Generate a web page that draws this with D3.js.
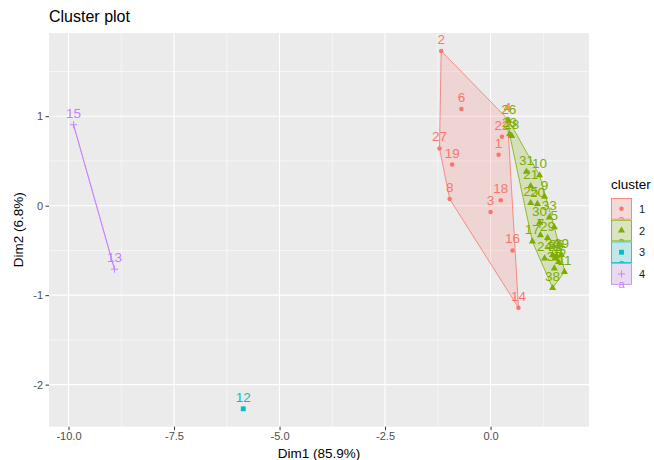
<!DOCTYPE html>
<html>
<head>
<meta charset="utf-8">
<script src="https://cdn.jsdelivr.net/npm/d3@7"></script>
<style>
    body { margin: 0; background: #ffffff; }
    svg { font-family: "Liberation Sans", Arial, sans-serif; }
</style>
</head>
<body>
<div id="chart"></div>
<script>
// cluster plot (fviz_cluster style)

const pointLabels = ["1","2","3","4","5","6","7","8","9","10","11","12","13","14","15","16","17","18","19","20",
                     "21","22","23","24","25","26","27","28","29","30","31","32","33","34","35","36","37","38","39"];
const dim1Values = [0.19, -1.17, 0.00, 0.40, 1.51, -0.69, 1.18, -0.97, 1.28, 1.16, 1.75, -5.86, -8.91, 0.66, -9.88, 0.52, 0.99, 0.24, -0.91, 1.11,
                    0.95, 0.27, 0.45, 1.28, 0.95, 0.43, -1.21, 0.50, 1.35, 1.16, 0.85, 1.54, 1.39, 1.47, 1.61, 1.56, 1.51, 1.47, 1.68];
const dim2Values = [0.57, 1.73, -0.07, 0.97, -0.24, 1.08, -0.33, 0.075, 0.10, 0.34, -0.74, -2.27, -0.71, -1.14, 0.905, -0.50, -0.40, 0.06, 0.46, 0.02,
                    0.22, 0.77, 0.80, -0.59, 0.03, 0.95, 0.64, 0.78, -0.36, -0.19, 0.38, -0.59, -0.13, -0.55, -0.63, -0.56, -0.70, -0.92, -0.55];
const clusterOf = [1, 1, 1, 1, 2, 1, 2, 1, 2, 2, 2, 3, 4, 1, 4, 1, 2, 1, 1, 2,
                   2, 1, 2, 2, 2, 2, 1, 2, 2, 2, 2, 2, 2, 2, 2, 2, 2, 2, 2];

const clusterNames = ["1", "2", "3", "4"];
const clusterColors = ["#F8766D", "#7CAE00", "#00BFC4", "#C77CFF"];

const xBreaks = [-10, -7.5, -5, -2.5, 0];
const xTickLabels = ["-10.0", "-7.5", "-5.0", "-2.5", "0.0"];
const xMinorBreaks = [-8.75, -6.25, -3.75, -1.25, 1.25];
const yBreaks = [-2, -1, 0, 1];
const yTickLabels = ["-2", "-1", "0", "1"];
const yMinorBreaks = [-1.5, -0.5, 0.5, 1.5];

window.onload = init;

function init()
{
    const width = 654, height = 460;
    const panel = { left: 49, top: 33, right: 589, bottom: 426.7 };     // plotting area

    const points = pointLabels.map((label, i) => ({
        label: label,
        x: dim1Values[i],
        y: dim2Values[i],
        cluster: clusterOf[i]
    }));

    const svg = d3.select("#chart")
        .append("svg")
        .attr("width", width)
        .attr("height", height);

    // ggplot style 5% expansion of the data range
    const xExt = d3.extent(dim1Values), yExt = d3.extent(dim2Values);
    const xPad = (xExt[1] - xExt[0]) * 0.05, yPad = (yExt[1] - yExt[0]) * 0.05;
    const x = d3.scaleLinear().domain([xExt[0] - xPad, xExt[1] + xPad]).range([panel.left, panel.right]);
    const y = d3.scaleLinear().domain([yExt[0] - yPad, yExt[1] + yPad]).range([panel.bottom, panel.top]);
    const color = d3.scaleOrdinal().domain(clusterNames).range(clusterColors);

    svg.append("rect")                                                   // panel background
        .attr("x", panel.left)
        .attr("y", panel.top)
        .attr("width", panel.right - panel.left)
        .attr("height", panel.bottom - panel.top)
        .attr("fill", "#EBEBEB");

    const grid = svg.append("g");
    grid.selectAll(".xminor").data(xMinorBreaks).enter().append("line")
        .attr("x1", d => x(d)).attr("x2", d => x(d))
        .attr("y1", panel.top).attr("y2", panel.bottom)
        .attr("stroke", "#ffffff").attr("stroke-width", 0.55);
    grid.selectAll(".yminor").data(yMinorBreaks).enter().append("line")
        .attr("y1", d => y(d)).attr("y2", d => y(d))
        .attr("x1", panel.left).attr("x2", panel.right)
        .attr("stroke", "#ffffff").attr("stroke-width", 0.55);
    grid.selectAll(".xmajor").data(xBreaks).enter().append("line")
        .attr("x1", d => x(d)).attr("x2", d => x(d))
        .attr("y1", panel.top).attr("y2", panel.bottom)
        .attr("stroke", "#ffffff").attr("stroke-width", 1.1);
    grid.selectAll(".ymajor").data(yBreaks).enter().append("line")
        .attr("y1", d => y(d)).attr("y2", d => y(d))
        .attr("x1", panel.left).attr("x2", panel.right)
        .attr("stroke", "#ffffff").attr("stroke-width", 1.1);

    // convex hulls per cluster
    const hulls = svg.append("g");
    clusterNames.forEach(name => {
        const pts = points.filter(p => String(p.cluster) === name).map(p => [x(p.x), y(p.y)]);
        if (pts.length < 2) return;
        const hull = pts.length > 2 ? d3.polygonHull(pts) : pts;
        hulls.append("path")
            .attr("d", "M" + hull.join("L") + "Z")
            .attr("fill", color(name))
            .attr("fill-opacity", 0.2)
            .attr("stroke", color(name))
            .attr("stroke-width", 0.8);
    });

    function shapePath(cluster, size) {
        if (cluster === 4) {                                            // thin plus like pch 3
            const r = size;
            return `M${-r},0H${r}M0,${-r}V${r}`;
        }
        const types = { 1: d3.symbolCircle, 2: d3.symbolTriangle, 3: d3.symbolSquare };
        const areas = { 1: 16, 2: 22, 3: 24 };
        return d3.symbol().type(types[cluster]).size(areas[cluster])();
    }

    svg.append("g").selectAll("path")
        .data(points)
        .enter().append("path")
        .attr("transform", d => `translate(${x(d.x)},${y(d.y)})`)
        .attr("d", d => shapePath(d.cluster, 3.6))
        .attr("fill", d => d.cluster === 4 ? "none" : color(String(d.cluster)))
        .attr("stroke", d => d.cluster === 4 ? color("4") : "none")
        .attr("stroke-width", 0.9);

    svg.append("g").selectAll("text")
        .data(points)
        .enter().append("text")
        .attr("x", d => x(d.x))
        .attr("y", d => y(d.y) - 7)
        .attr("text-anchor", "middle")
        .attr("font-size", "13.5px")
        .attr("fill", d => color(String(d.cluster)))
        .text(d => d.label);

    // axes
    const xAxis = svg.append("g")
        .attr("transform", `translate(0,${panel.bottom})`)
        .call(d3.axisBottom(x).tickValues(xBreaks).tickFormat((d, i) => xTickLabels[i]).tickSize(3.5).tickPadding(2.5));
    const yAxis = svg.append("g")
        .attr("transform", `translate(${panel.left},0)`)
        .call(d3.axisLeft(y).tickValues(yBreaks).tickFormat((d, i) => yTickLabels[i]).tickSize(3.5).tickPadding(2.5));
    [xAxis, yAxis].forEach(ax => {
        ax.select(".domain").remove();
        ax.selectAll(".tick line").attr("stroke", "#333333").attr("stroke-width", 1);
        ax.selectAll(".tick text")
            .attr("fill", "#4D4D4D")
            .style("font-family", "'Liberation Sans', Arial, sans-serif")
            .style("font-size", "11px");
    });

    svg.append("text")
        .attr("x", (panel.left + panel.right) / 2)
        .attr("y", 458)
        .attr("text-anchor", "middle")
        .attr("font-size", "13.5px")
        .attr("fill", "#000000")
        .text("Dim1 (85.9%)");

    svg.append("text")
        .attr("transform", `translate(23,${(panel.top + panel.bottom) / 2}) rotate(-90)`)
        .attr("text-anchor", "middle")
        .attr("font-size", "13.5px")
        .attr("fill", "#000000")
        .text("Dim2 (6.8%)");

    svg.append("text")
        .attr("x", panel.left)
        .attr("y", 22)
        .attr("font-size", "16px")
        .attr("fill", "#000000")
        .text("Cluster plot");

    // legend
    const legend = svg.append("g").attr("transform", "translate(611,0)");
    legend.append("text")
        .attr("x", 0)
        .attr("y", 189)
        .attr("font-size", "13.5px")
        .attr("fill", "#000000")
        .text("cluster");

    const keyTop = 198, keyH = 21.7, keyW = 21;
    clusterNames.forEach((name, i) => {
        const ky = keyTop + i * keyH;
        const key = legend.append("g");
        key.append("rect")
            .attr("x", 0).attr("y", ky)
            .attr("width", keyW).attr("height", keyH)
            .attr("fill", "#F2F2F2");
        key.append("rect")
            .attr("x", 0.5).attr("y", ky + 0.5)
            .attr("width", keyW - 1).attr("height", keyH - 1)
            .attr("fill", color(name)).attr("fill-opacity", 0.2)
            .attr("stroke", color(name)).attr("stroke-width", 0.8);
        key.append("path")
            .attr("transform", `translate(${keyW / 2},${ky + keyH / 2})`)
            .attr("d", shapePath(i + 1, 3.6))
            .attr("fill", i === 3 ? "none" : color(name))
            .attr("stroke", i === 3 ? color(name) : "none")
            .attr("stroke-width", 0.9);
        key.append("text")
            .attr("x", keyW / 2)
            .attr("y", ky + keyH + 3.5)
            .attr("text-anchor", "middle")
            .attr("font-size", "11px")
            .attr("fill", color(name))
            .text("a");
        legend.append("text")
            .attr("x", 28)
            .attr("y", ky + keyH / 2 + 4)
            .attr("font-size", "11px")
            .attr("fill", "#1A1A1A")
            .text(name);
    });
}
</script>
</body>
</html>
